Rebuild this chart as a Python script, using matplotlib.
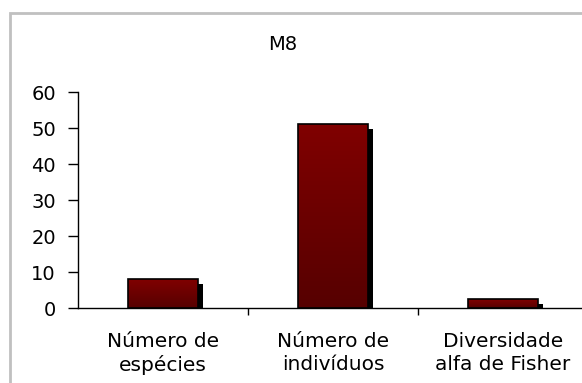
import matplotlib
matplotlib.use("Agg")
import matplotlib.pyplot as plt
import matplotlib.transforms as mtransforms
from matplotlib.patches import Rectangle
import numpy as np

plt.rcParams['font.family'] = ['DejaVu Sans']

title = "M8"
categories = ["Número de\nespécies", "Número de\nindivíduos", "Diversidade\nalfa de Fisher"]
values = [8, 51, 2.5]
yticks = [0, 10, 20, 30, 40, 50, 60]

W, H = 582, 383
fig = plt.figure(figsize=(W / 100, H / 100), dpi=100)

# outer chart border (light gray), runs off the right/bottom edge like the original
fig.patches.append(Rectangle((10 / W, -0.2), 1.2, 1.2 - 13 / H,
                             transform=fig.transFigure, fill=False,
                             edgecolor='#c0c0c0', linewidth=2))

ax = fig.add_axes([78 / W, (H - 308) / H, 510 / W, 216 / H])
x = np.arange(len(categories))
bw = 0.41

# drop shadow, shifted 5px right and 5px down
shadow_tr = ax.transData + mtransforms.ScaledTranslation(5 / 100, -5 / 100, fig.dpi_scale_trans)
ax.bar(x, values, width=bw, color='black', transform=shadow_tr, zorder=2)

bars = ax.bar(x, values, width=bw, color='#7a0000', edgecolor='black', linewidth=1.2, zorder=3)

# vertical gradient fill inside each bar
grad = np.linspace(0, 1, 256).reshape(-1, 1)
cmap = matplotlib.colors.LinearSegmentedColormap.from_list('rg', ['#560000', '#800000'])
for b in bars:
    x0, y0 = b.get_x(), b.get_y()
    im = ax.imshow(grad, extent=[x0, x0 + b.get_width(), y0, y0 + b.get_height()],
                   origin='lower', aspect='auto', cmap=cmap, zorder=3)
    im.set_clip_path(b)
    b.set_facecolor('none')
    b.set_zorder(4)

ax.set_xlim(-0.5, 2.5)
ax.set_ylim(0, 60)
ax.set_yticks(yticks)
ax.set_xticks(x)
ax.set_xticklabels(categories, fontsize=14.5, linespacing=1.3)
ax.set_xticks([0.5, 1.5, 2.5], minor=True)
ax.tick_params(axis='x', which='major', length=0, pad=17)
ax.tick_params(axis='x', which='minor', length=5, direction='out', width=1)
ax.tick_params(axis='y', length=7, width=1, pad=9, labelsize=14)

for s in ['top', 'right']:
    ax.spines[s].set_visible(False)
for s in ['left', 'bottom']:
    ax.spines[s].set_linewidth(1)

fig.text(283 / W, 1 - 45 / H, title, ha='center', va='center', fontsize=14)

fig.savefig("out.png", dpi=100)
